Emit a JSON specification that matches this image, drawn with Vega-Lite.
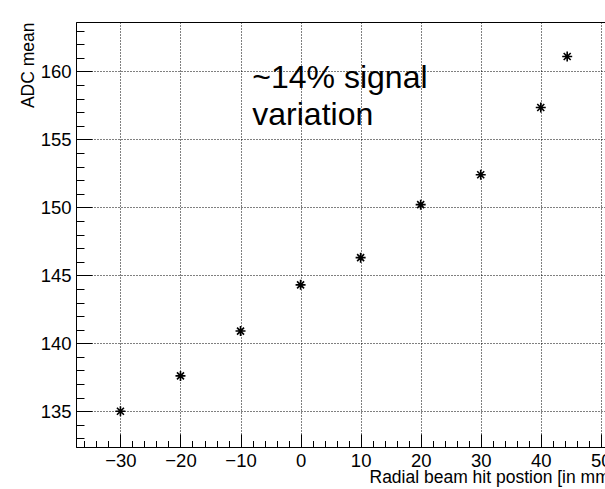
{
  "$schema": "https://vega.github.io/schema/vega-lite/v6.json",
  "width": 531,
  "height": 425,
  "autosize": {"type": "none"},
  "padding": {"left": 76, "top": 22, "right": 0, "bottom": 42},
  "background": "white",
  "config": {
    "view": {"stroke": "black", "strokeWidth": 1},
    "font": "Liberation Sans",
    "axis": {
      "labelFont": "Liberation Sans",
      "titleFont": "Liberation Sans",
      "labelColor": "black",
      "titleColor": "black",
      "labelFontSize": 18.5,
      "titleFontSize": 17.5,
      "titleFontWeight": "normal",
      "domainColor": "black",
      "tickColor": "black",
      "gridColor": "black",
      "gridDash": [1, 2],
      "gridWidth": 1,
      "labelFlush": false,
      "labelOverlap": false
    }
  },
  "resolve": {"axis": {"x": "independent", "y": "independent"}},
  "layer": [
    {
      "data": {"name": "pts"},
      "mark": {"type": "point", "opacity": 0},
      "encoding": {
        "x": {
          "field": "pos",
          "type": "quantitative",
          "scale": {"domain": [-37.4, 51.03], "nice": false, "zero": false},
          "axis": {
            "orient": "bottom",
            "title": null,
            "values": [-36, -34, -32, -30, -28, -26, -24, -22, -20, -18, -16, -14, -12, -10, -8, -6, -4, -2, 0, 2, 4, 6, 8, 10, 12, 14, 16, 18, 20, 22, 24, 26, 28, 30, 32, 34, 36, 38, 40, 42, 44, 46, 48, 50],
            "labels": false,
            "grid": false,
            "domain": false,
            "tickSize": -6.5
          }
        },
        "y": {
          "field": "adc",
          "type": "quantitative",
          "scale": {"domain": [132.37, 163.64], "nice": false, "zero": false},
          "axis": {
            "orient": "left",
            "title": null,
            "values": [133, 134, 135, 136, 137, 138, 139, 140, 141, 142, 143, 144, 145, 146, 147, 148, 149, 150, 151, 152, 153, 154, 155, 156, 157, 158, 159, 160, 161, 162, 163],
            "labels": false,
            "grid": false,
            "domain": false,
            "tickSize": -8
          }
        }
      }
    },
    {
      "data": {"name": "pts"},
      "mark": {
        "type": "point",
        "shape": "M-1,0L1,0M0,-1L0,1M-0.7,-0.7L0.7,0.7M-0.7,0.7L0.7,-0.7",
        "filled": false,
        "stroke": "black",
        "strokeWidth": 1.6,
        "size": 100,
        "opacity": 1
      },
      "encoding": {
        "x": {
          "field": "pos",
          "type": "quantitative",
          "axis": {
            "orient": "bottom",
            "title": "Radial beam hit postion [in mm]",
            "values": [-30, -20, -10, 0, 10, 20, 30, 40, 50],
            "tickSize": -13,
            "labelPadding": 17,
            "grid": true,
            "titleX": 293,
            "titleY": 35,
            "titleAlign": "left",
            "titleBaseline": "alphabetic",
            "titleAnchor": "start"
          }
        },
        "y": {
          "field": "adc",
          "type": "quantitative",
          "axis": {
            "orient": "left",
            "title": "ADC mean",
            "values": [135, 140, 145, 150, 155, 160],
            "tickSize": -16,
            "labelPadding": 21,
            "grid": true,
            "titleAngle": -90,
            "titleX": -43,
            "titleY": 0,
            "titleAlign": "right",
            "titleBaseline": "alphabetic",
            "titleAnchor": "end"
          }
        }
      }
    },
    {
      "data": {"values": [{"tx": -8.04, "ty": 158.8, "label": ["~14% signal", "variation"]}]},
      "mark": {"type": "text", "align": "left", "baseline": "alphabetic", "fontSize": 32, "lineHeight": 37, "font": "Liberation Sans", "color": "black"},
      "encoding": {
        "x": {"field": "tx", "type": "quantitative", "axis": null},
        "y": {"field": "ty", "type": "quantitative", "axis": null},
        "text": {"field": "label"}
      }
    }
  ],
  "datasets": {
    "pts": [
      {"pos": -30, "adc": 135.0},
      {"pos": -20, "adc": 137.6},
      {"pos": -10, "adc": 140.9},
      {"pos": 0, "adc": 144.3},
      {"pos": 10, "adc": 146.3},
      {"pos": 20, "adc": 150.2},
      {"pos": 30, "adc": 152.4},
      {"pos": 40, "adc": 157.35},
      {"pos": 44.4, "adc": 161.1}
    ]
  }
}
